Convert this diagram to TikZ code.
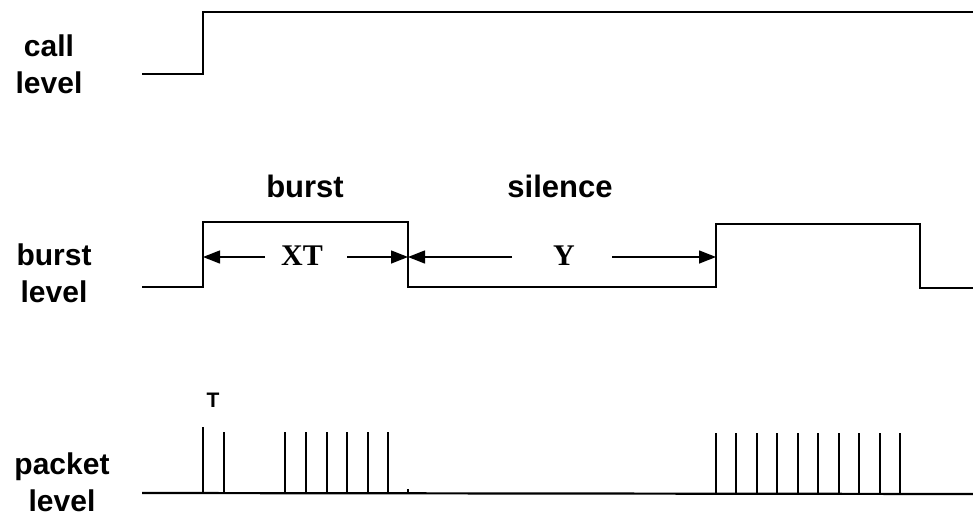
\documentclass[tikz,border=0pt]{standalone}
\usepackage{fontspec}
\setmainfont{Liberation Sans}
\newfontfamily\serifbold{Liberation Serif Bold}
\usetikzlibrary{arrows.meta}
\begin{document}
\begin{tikzpicture}[x=1pt,y=-1pt,
  signal/.style={line width=2.2pt,line join=miter},
  pulse/.style={line width=2.2pt},
  span/.style={line width=1.4pt,-{Triangle[length=17pt,width=13pt]}},
  levellabel/.style={font=\fontsize{30}{37}\selectfont\bfseries,align=center,anchor=base,inner sep=0pt},
  title/.style={font=\fontsize{31}{36}\selectfont\bfseries,anchor=base,inner sep=0pt},
  dur/.style={font=\fontsize{30}{34}\selectfont\serifbold,anchor=base,inner sep=0pt}]
\useasboundingbox (0,0) rectangle (973,519);

% level labels (anchored at the baseline of the last line)
\node[levellabel] (lcall)   at (49,93)  {call\\level};
\node[levellabel] (lburst)  at (54,302) {burst\\level};
\node[levellabel] (lpacket) at (62,511) {packet\\level};

% call level
\draw[signal] (142,74) -- (203,74) -- (203,12) -- (973,12);

% burst level
\coordinate (b1) at (203,257);
\coordinate (b2) at (408,257);
\coordinate (b3) at (716,257);
\draw[signal] (142,287) -- (203,287) -- (203,222) -- (408,222) -- (408,287)
  -- (716,287) -- (716,224) -- (920,224) -- (920,288) -- (973,288);

\node[title] (tburst)   at (305,197) {burst};
\node[title] (tsilence) at (560,197) {silence};

\node[dur] (xt) at (302,265) {XT};
\node[dur] (yy) at (564,265) {Y};
\coordinate (xtl) at (265,257);
\coordinate (xtr) at (347,257);
\coordinate (yl)  at (512,257);
\coordinate (yr)  at (612,257);
\draw[span] (xtl) -- (b1);
\draw[span] (xtr) -- (b2);
\draw[span] (yl)  -- (b2);
\draw[span] (yr)  -- (b3);

% packet level
\draw[signal] (142,493) -- (973,494);
\draw[pulse] (203,493) -- (203,427);
\foreach \x in {224,285,306,327,347,368,388}
  \draw[pulse] (\x,493) -- (\x,432);
\draw[pulse] (408,493) -- (408,489);
\foreach \x in {716,736,757,777,798,818,839,859,880,900}
  \draw[pulse] (\x,494) -- (\x,433);
\node[font=\fontsize{21}{24}\selectfont\bfseries,anchor=base,inner sep=0pt] (tT) at (213,407) {T};
\end{tikzpicture}
\end{document}
